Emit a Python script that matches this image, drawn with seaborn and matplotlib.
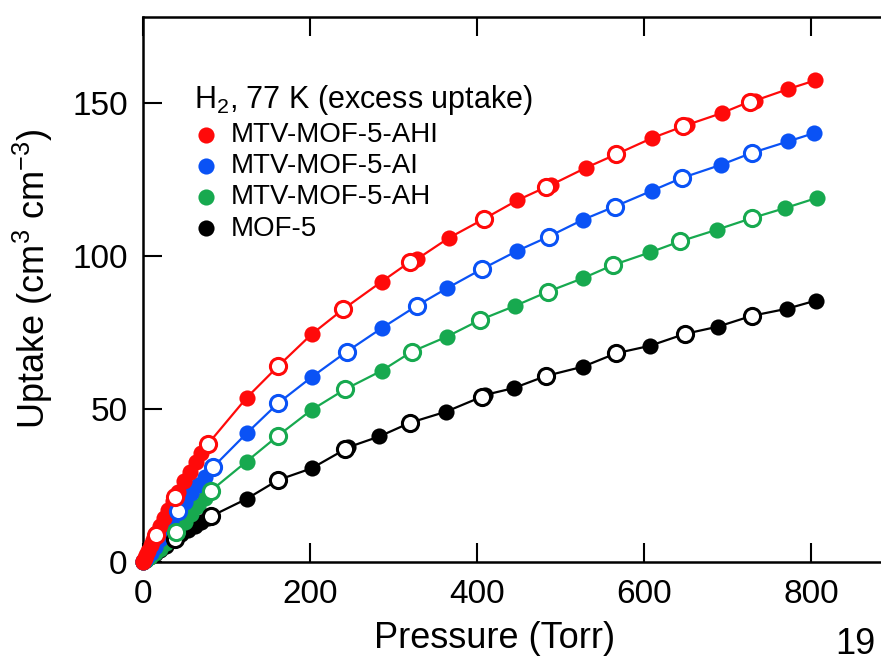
import matplotlib
matplotlib.use("Agg")
import matplotlib.pyplot as plt
import seaborn as sns
import pandas as pd

# filled symbols = adsorption, open symbols = desorption (Torr, cm3 cm-3)
ahi_ads_p = [0, 0.5, 1, 2, 4, 6, 9, 12, 16, 20, 25, 30, 36, 42, 49, 56, 63, 70, 77,
             124, 202, 286, 328, 366, 448, 489, 530, 610, 652, 693, 733, 773, 805]
ahi_ads_u = [0, 0.3, 0.6, 1.2, 2.4, 3.6, 5.4, 7.1, 9.4, 11.6, 14.3, 17.0, 20.0, 23.0, 26.3, 29.5, 32.5, 35.5, 38.2,
             53.6, 74.4, 91.6, 98.9, 105.8, 118.1, 123.2, 128.7, 138.5, 142.8, 146.6, 150.7, 154.5, 157.3]
ahi_des_p = [727, 647, 567, 483, 408, 320, 240, 162, 78, 38, 15]
ahi_des_u = [150.4, 142.3, 133.2, 122.5, 112.0, 98.1, 82.6, 64.0, 38.6, 21.1, 8.8]

ai_ads_p = [0, 0.5, 2, 5, 9, 14, 20, 27, 34, 50, 58, 66, 74,
            124, 202, 286, 364, 448, 527, 609, 692, 773, 804]
ai_ads_u = [0, 0.2, 0.6, 1.6, 3.0, 4.9, 7.4, 10.4, 13.5, 19.5, 22.5, 25.2, 27.8,
            42.0, 60.4, 76.4, 89.4, 101.6, 111.8, 121.2, 129.7, 137.4, 140.1]
ai_des_p = [729, 645, 565, 486, 406, 328, 244, 162, 84, 42]
ai_des_u = [133.6, 125.4, 116.1, 106.3, 95.7, 83.7, 68.7, 51.9, 31.0, 16.8]

ah_ads_p = [0, 1, 3, 8, 14, 20, 27, 34, 50, 58, 66, 74,
            124, 202, 286, 364, 446, 527, 607, 687, 769, 807]
ah_ads_u = [0, 0.2, 0.6, 1.6, 2.9, 4.4, 6.3, 8.1, 13.0, 15.6, 18.2, 20.8,
            32.8, 49.7, 62.5, 73.6, 83.7, 92.7, 101.1, 108.5, 115.6, 118.9]
ah_des_p = [729, 643, 563, 485, 404, 322, 242, 162, 81, 40]
ah_des_u = [112.3, 104.7, 97.0, 88.3, 79.1, 68.7, 56.4, 41.3, 23.2, 9.9]

mof_ads_p = [0, 1, 3, 8, 14, 20, 27, 34, 46, 54, 62, 70, 78,
             124, 202, 246, 283, 363, 410, 444, 527, 607, 689, 771, 806]
mof_ads_u = [0, 0.2, 0.6, 1.5, 2.7, 3.9, 5.3, 6.7, 9.0, 10.4, 11.8, 13.1, 14.3,
             20.6, 30.6, 37.5, 41.0, 49.1, 54.6, 56.8, 63.8, 70.6, 76.9, 82.7, 85.4]
mof_des_p = [729, 649, 567, 483, 406, 320, 242, 162, 82, 38]
mof_des_u = [80.4, 74.5, 68.2, 60.8, 54.0, 45.5, 36.8, 26.8, 15.0, 7.4]

samples = ["MTV-MOF-5-AHI", "MTV-MOF-5-AI", "MTV-MOF-5-AH", "MOF-5"]
colors = ["#ff0a0a", "#0a52f5", "#17a94f", "#000000"]
series = {
    "MTV-MOF-5-AHI": (ahi_ads_p, ahi_ads_u, ahi_des_p, ahi_des_u),
    "MTV-MOF-5-AI": (ai_ads_p, ai_ads_u, ai_des_p, ai_des_u),
    "MTV-MOF-5-AH": (ah_ads_p, ah_ads_u, ah_des_p, ah_des_u),
    "MOF-5": (mof_ads_p, mof_ads_u, mof_des_p, mof_des_u),
}

rows = []
for name, (ap, au, dp, du) in series.items():
    rows += [dict(sample=name, branch="ads", P=p, U=u) for p, u in zip(ap, au)]
    rows += [dict(sample=name, branch="des", P=p, U=u) for p, u in zip(dp, du)]
df = pd.DataFrame(rows)

sns.set_theme(style="ticks")
plt.rcParams["font.family"] = ["Liberation Sans", "DejaVu Sans"]
plt.rcParams["mathtext.fontset"] = "custom"
plt.rcParams["mathtext.rm"] = "Liberation Sans"
plt.rcParams["mathtext.it"] = "Liberation Sans:italic"
plt.rcParams["mathtext.bf"] = "Liberation Sans:bold"
plt.rcParams["text.color"] = "black"
plt.rcParams["axes.labelcolor"] = "black"

fig = plt.figure(figsize=(8.81, 6.67), dpi=100)
ax = fig.add_axes([143 / 881, 105 / 667, 751.5 / 881, 545 / 667])

# draw MOF-5 first so the red curve sits on top
for name, col in reversed(list(zip(samples, colors))):
    sub = df[df["sample"] == name]
    sns.lineplot(data=sub, x="P", y="U", color=col, lw=1.6, sort=True,
                 estimator=None, ax=ax, zorder=2, legend=False)
    sns.scatterplot(data=sub[sub["branch"] == "ads"], x="P", y="U", color=col,
                    s=135, linewidth=0, ax=ax, zorder=3, clip_on=False, label=name)
    sns.scatterplot(data=sub[sub["branch"] == "des"], x="P", y="U", color="white",
                    edgecolor=col, s=135, linewidth=2.2, ax=ax, zorder=4,
                    clip_on=False, legend=False)

ax.set_xlim(0, 900)
ax.set_ylim(0, 178)
ax.set_xticks([0, 200, 400, 600, 800])
ax.set_yticks([0, 50, 100, 150])
ax.tick_params(direction="in", length=14, width=1.5, labelsize=24, colors="black",
               top=True, right=False)
ax.tick_params(axis="x", pad=12)
ax.tick_params(axis="y", pad=11)
ax.spines["right"].set_visible(False)
for sp in ax.spines.values():
    sp.set_linewidth(1.8)
    sp.set_color("black")

ax.set_xlabel("Pressure (Torr)", fontsize=26, labelpad=8, x=(495 - 143) / 751.5)
ax.set_ylabel("Uptake (cm$^{3}$ cm$^{-3}$)", fontsize=26, labelpad=12, y=0.52)

handles, labels = ax.get_legend_handles_labels()
order = [labels.index(s) for s in samples]
leg = ax.legend([handles[i] for i in order], [labels[i] for i in order],
                title="H$_2$, 77 K (excess uptake)", loc="upper left",
                bbox_to_anchor=(0.05, 0.905), frameon=False, fontsize=20,
                title_fontsize=22, alignment="left", borderpad=0,
                handlelength=0.8, handletextpad=0.51, labelspacing=0.19,
                markerscale=1.0)

fig.text(0.971, 0.033, "19", fontsize=26, ha="center", va="center")

fig.savefig("out.png", dpi=100)
